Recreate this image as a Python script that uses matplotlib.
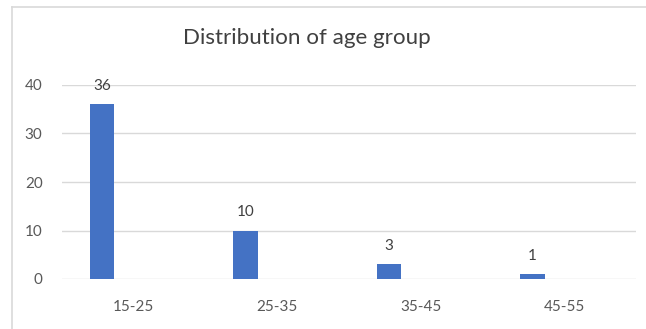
import numpy as np
import matplotlib
matplotlib.use("Agg")
import matplotlib.pyplot as plt
from matplotlib.lines import Line2D

plt.rcParams['font.family'] = ['Lato', 'DejaVu Sans']

groups = ['15-25', '25-35', '35-45', '45-55']
counts = [36, 10, 3, 1]
title = 'Distribution of age group'

W, H = 646, 329
fig = plt.figure(figsize=(W / 100, H / 100), dpi=100)

# plot area in pixels: x 62..636, y 85 (40) .. 279 (0)
ax = fig.add_axes([62 / W, 1 - 279 / H, (636 - 62) / W, (279 - 85) / H])

x = np.arange(len(groups))
bars = ax.bar(x - 0.22, counts, width=0.17, color='#4472c4', zorder=3)
for b, v in zip(bars, counts):
    ax.annotate(str(v), (b.get_x() + b.get_width() / 2, v), xytext=(0, 8),
                textcoords='offset points', ha='center', va='bottom',
                fontsize=11, color='#404040')

ax.set_xlim(-0.5, len(groups) - 0.5)
ax.set_ylim(0, 40)
ax.set_yticks([0, 10, 20, 30, 40])
ax.set_xticks(x)
ax.set_xticklabels(groups)
ax.grid(axis='y', color='#d9d9d9', linewidth=1, zorder=0)
for s in ax.spines.values():
    s.set_visible(False)
ax.tick_params(length=0, labelsize=11, colors='#595959')
ax.tick_params(axis='y', pad=14)
ax.tick_params(axis='x', pad=15)

fig.text(307 / W, 1 - 38 / H, title, ha='center', va='center',
         fontsize=16.1, color='#404040')

# chart frame (left and top edges)
fig.add_artist(Line2D([12 / W, 12 / W], [0, 1 - 6.5 / H], color='#d9d9d9', lw=1.2))
fig.add_artist(Line2D([12 / W, 1], [1 - 6.5 / H, 1 - 6.5 / H], color='#d9d9d9', lw=1.2))

fig.savefig('out.png', dpi=100)
